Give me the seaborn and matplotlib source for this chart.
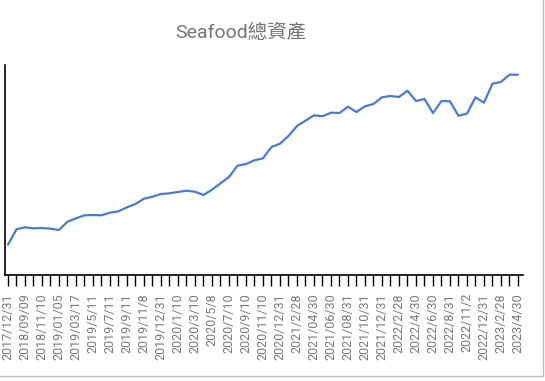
import matplotlib
matplotlib.use("Agg")
import matplotlib.pyplot as plt
import seaborn as sns
import pandas as pd
from matplotlib.lines import Line2D

# Labelled dates (every other data point carries a label)
tick_labels = ["2017/12/31", "2018/09/09", "2018/11/10", "2019/01/05", "2019/03/17",
               "2019/5/11", "2019/7/11", "2019/9/11", "2019/11/8", "2019/12/31",
               "2020/1/10", "2020/3/10", "2020/5/8", "2020/7/10", "2020/9/10",
               "2020/11/10", "2020/12/31", "2021/2/28", "2021/04/30", "2021/06/30",
               "2021/08/31", "2021/10/31", "2021/12/31", "2022/2/28", "2022/4/30",
               "2022/6/30", "2022/8/31", "2022/11/2", "2022/12/31", "2023/2/28",
               "2023/4/30"]

# Total assets (relative units)
values = [30.3, 45.7, 47.7, 46.7, 47.0, 46.3, 45.0, 53.3, 56.7, 59.7,
          60.0, 59.7, 62.3, 63.7, 67.7, 71.0, 76.3, 78.3, 81.0, 81.7,
          83.0, 84.3, 83.3, 80.0, 85.3, 91.7, 98.0, 109.3, 111.0, 114.7,
          116.7, 128.0, 131.3, 139.0, 149.0, 154.3, 159.7, 158.7, 162.3, 162.0,
          168.3, 163.0, 168.7, 171.0, 177.7, 179.0, 178.0, 184.3, 174.0, 176.0,
          162.0, 174.0, 173.7, 159.3, 161.3, 177.7, 172.3, 191.3, 193.0, 200.3,
          200.3]

title = "Seafood總資產"

sns.set_style("white")
plt.rcParams["font.family"] = ["Roboto", "Noto Sans CJK TC", "DejaVu Sans"]

W, H = 545, 381
fig = plt.figure(figsize=(W / 100, H / 100), dpi=100)
ax = fig.add_axes([5 / W, 1 - 275 / H, (523 - 5) / W, (275 - 65) / H])

df = pd.DataFrame({"idx": range(len(values)), "value": values})
sns.lineplot(data=df, x="idx", y="value", ax=ax, color="#4a7bd0", linewidth=1.6)

ax.set_xlim(-0.35, len(values) - 1 + 0.59)
ax.set_ylim(0, 210)
ax.set_xlabel("")
ax.set_ylabel("")
ax.set_yticks([])

labels_full = []
for i in range(len(values)):
    labels_full.append(tick_labels[i // 2] if i % 2 == 0 else "")
ax.set_xticks(range(len(values)))
ax.set_xticklabels(labels_full, rotation=90, fontsize=9, color="#7a7a7a",
                   va="top", ha="center")
ax.tick_params(axis="x", direction="out", length=8, width=1, color="black", pad=5,
               bottom=True)

for s in ["top", "right"]:
    ax.spines[s].set_visible(False)
for s in ["left", "bottom"]:
    ax.spines[s].set_color("black")
    ax.spines[s].set_linewidth(1.2)

fig.text(241 / W, 1 - 33 / H, title, ha="center", va="center",
         fontsize=14, color="#757575")

# sheet frame lines
fig.add_artist(Line2D([543 / W, 543 / W], [1 - 376 / H, 1], color="#bdbdbd", lw=1))
fig.add_artist(Line2D([0, 543 / W], [1 - 376 / H, 1 - 376 / H], color="#bdbdbd", lw=1))

fig.savefig("out.png", dpi=100)
